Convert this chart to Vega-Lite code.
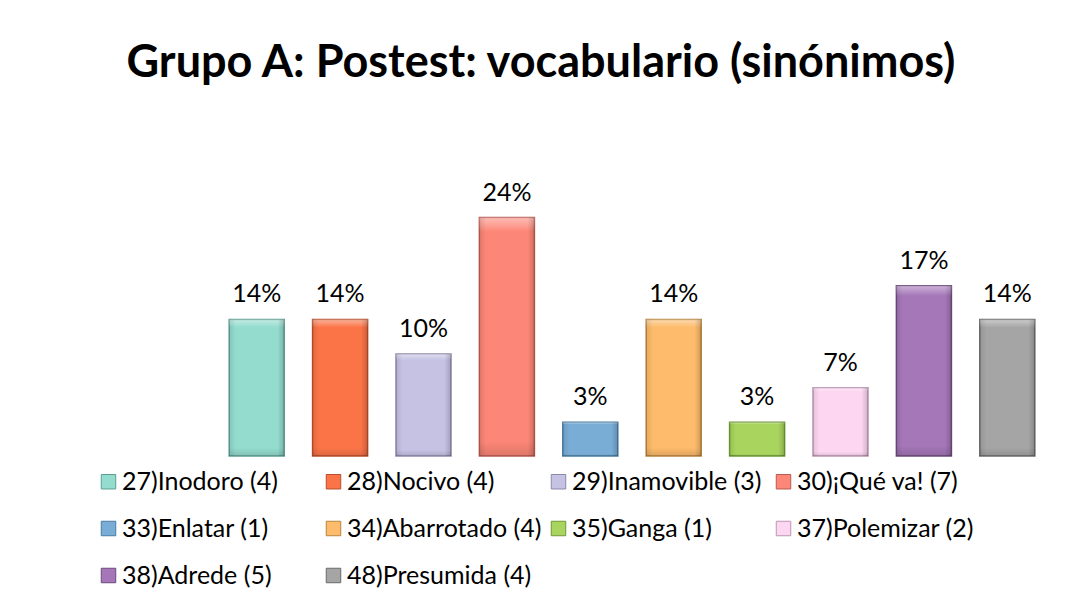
{
  "$schema": "https://vega.github.io/schema/vega-lite/v6.json",
  "width": 834,
  "height": 286,
  "autosize": {"type": "none"},
  "padding": {"left": 215, "top": 170, "right": 21, "bottom": 154},
  "background": "white",
  "config": {"view": {"stroke": null}},
  "title": {
    "text": "Grupo A: Postest: vocabulario (sinónimos)",
    "font": "Lato",
    "fontSize": 45,
    "fontWeight": "bold",
    "color": "#000000",
    "anchor": "middle",
    "dx": -91,
    "offset": 48,
    "baseline": "alphabetic"
  },
  "data": {
    "values": [
      {"label": "27)Inodoro (4)", "pct": 0.138},
      {"label": "28)Nocivo (4)", "pct": 0.138},
      {"label": "29)Inamovible (3)", "pct": 0.103},
      {"label": "30)¡Qué va! (7)", "pct": 0.241},
      {"label": "33)Enlatar (1)", "pct": 0.034},
      {"label": "34)Abarrotado (4)", "pct": 0.138},
      {"label": "35)Ganga (1)", "pct": 0.034},
      {"label": "37)Polemizar (2)", "pct": 0.069},
      {"label": "38)Adrede (5)", "pct": 0.172},
      {"label": "48)Presumida (4)", "pct": 0.138}
    ]
  },
  "encoding": {
    "x": {"field": "label", "type": "nominal", "sort": null, "axis": null,
          "scale": {"paddingInner": 0.34, "paddingOuter": 0.17}},
    "y": {"field": "pct", "type": "quantitative", "axis": null,
          "scale": {"domain": [0, 0.289], "nice": false}}
  },
  "layer": [
    {
      "mark": {"type": "bar", "strokeWidth": 1.5},
      "encoding": {
        "fill": {
          "field": "label", "type": "nominal", "sort": null,
          "scale": {"range": ["#93DCCE", "#FB7448", "#C6C2E4", "#FC8677", "#79ADD6", "#FDBB6B", "#A9D55E", "#FDD6F1", "#A576B8", "#A5A5A5"]},
          "legend": {
            "orient": "none",
            "legendX": -119,
            "legendY": 299,
            "direction": "horizontal",
            "columns": 4,
            "gridAlign": "all",
            "title": null,
            "symbolType": "square",
            "symbolSize": 210,
            "symbolStrokeWidth": 1,
            "symbolStrokeColor": "#777777",
            "labelFont": "Lato",
            "labelFontSize": 25,
            "labelColor": "#000000",
            "labelOffset": 1,
            "labelLimit": 300,
            "columnPadding": 4,
            "rowPadding": 21
          }
        },
        "stroke": {
          "field": "label", "type": "nominal", "sort": null,
          "scale": {"range": ["#5E9E92", "#B84E2C", "#8D89A8", "#B85A50", "#4A7BA0", "#B8843F", "#6E9A35", "#BC96B2", "#6D4A7E", "#6B6B6B"]},
          "legend": null
        }
      }
    },
    {
      "mark": {
        "type": "bar",
        "fill": {
          "gradient": "linear", "x1": 0, "y1": 0, "x2": 0, "y2": 1,
          "stops": [
            {"offset": 0, "color": "rgba(255,255,255,0.45)"},
            {"offset": 0.06, "color": "rgba(255,255,255,0.0)"},
            {"offset": 0.94, "color": "rgba(0,0,0,0.0)"},
            {"offset": 1, "color": "rgba(0,0,0,0.12)"}
          ]
        },
        "stroke": null
      }
    },
    {
      "mark": {
        "type": "bar",
        "fill": {
          "gradient": "linear", "x1": 0, "y1": 0, "x2": 1, "y2": 0,
          "stops": [
            {"offset": 0, "color": "rgba(0,0,0,0.10)"},
            {"offset": 0.12, "color": "rgba(0,0,0,0.0)"},
            {"offset": 0.88, "color": "rgba(0,0,0,0.0)"},
            {"offset": 1, "color": "rgba(0,0,0,0.18)"}
          ]
        },
        "stroke": null
      }
    },
    {
      "mark": {"type": "text", "baseline": "alphabetic", "dy": -17, "font": "Lato", "fontSize": 25, "color": "#000000"},
      "encoding": {
        "text": {"field": "pct", "type": "quantitative", "format": ".0%"}
      }
    }
  ]
}
